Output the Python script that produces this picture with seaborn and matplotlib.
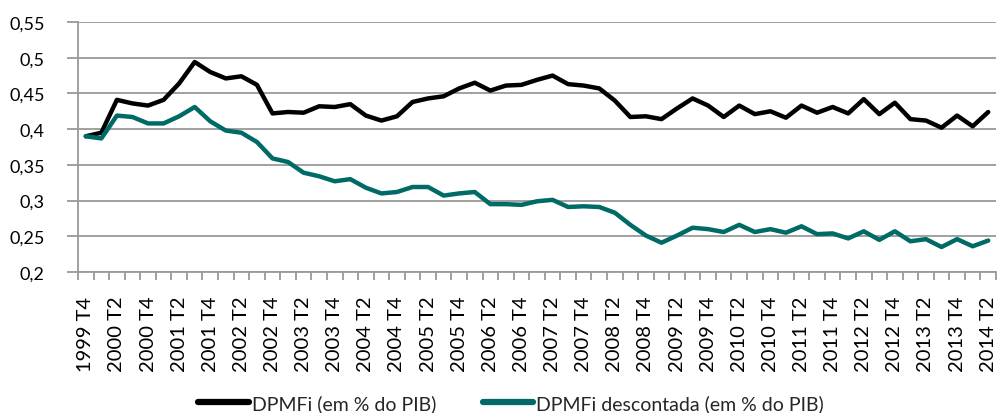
import matplotlib
matplotlib.use("Agg")
import matplotlib.pyplot as plt
from matplotlib.ticker import MultipleLocator, FixedLocator, FuncFormatter
import seaborn as sns
import pandas as pd
import numpy as np

# Quarters 1999 T4 .. 2014 T2
quarters = ["1999 T4"] + [f"{y} T{q}" for y in range(2000, 2014) for q in (1, 2, 3, 4)] + ["2014 T1", "2014 T2"]

dpmfi = [0.390, 0.395, 0.441, 0.436, 0.433, 0.441, 0.464, 0.494, 0.480, 0.471,
         0.474, 0.462, 0.422, 0.424, 0.423, 0.432, 0.431, 0.435, 0.419, 0.412,
         0.418, 0.438, 0.443, 0.446, 0.457, 0.465, 0.454, 0.461, 0.462, 0.469,
         0.475, 0.463, 0.461, 0.457, 0.440, 0.417, 0.418, 0.414, 0.429, 0.443,
         0.433, 0.417, 0.433, 0.421, 0.425, 0.416, 0.433, 0.423, 0.431, 0.422,
         0.442, 0.421, 0.437, 0.414, 0.412, 0.402, 0.419, 0.404, 0.424]

dpmfi_desc = [0.390, 0.387, 0.419, 0.417, 0.408, 0.408, 0.418, 0.431, 0.411, 0.398,
              0.395, 0.382, 0.359, 0.354, 0.339, 0.334, 0.327, 0.330, 0.318, 0.310,
              0.312, 0.319, 0.319, 0.307, 0.310, 0.312, 0.295, 0.295, 0.294, 0.299,
              0.301, 0.291, 0.292, 0.291, 0.283, 0.266, 0.251, 0.241, 0.251, 0.262,
              0.260, 0.256, 0.266, 0.256, 0.260, 0.255, 0.264, 0.253, 0.254, 0.247,
              0.257, 0.245, 0.257, 0.243, 0.246, 0.235, 0.246, 0.236, 0.244]

series_names = ["DPMFi (em % do PIB)", "DPMFi descontada (em % do PIB)"]
colors = ["#000000", "#006B66"]

n = len(quarters)
df = pd.DataFrame({
    "idx": list(range(n)) * 2,
    "valor": dpmfi + dpmfi_desc,
    "serie": [series_names[0]] * n + [series_names[1]] * n,
})

sns.set_theme(style="white")
plt.rcParams["font.family"] = ["Lato", "DejaVu Sans"]

fig = plt.figure(figsize=(9.97, 4.14), dpi=100)
ax = fig.add_axes([78 / 997, 1 - 273 / 414, (996 - 78) / 997, (273 - 23) / 414])

sns.lineplot(data=df, x="idx", y="valor", hue="serie", palette=colors,
             linewidth=3.2, legend=False, ax=ax, sort=False)

gray = "#999999"
ax.set_xlim(-0.5, n - 0.5)
ax.set_ylim(0.2, 0.55)
ax.yaxis.set_major_locator(MultipleLocator(0.05))
ax.yaxis.set_major_formatter(FuncFormatter(lambda v, p: f"{v:.2f}".rstrip("0").rstrip(".").replace(".", ",")))
ax.grid(axis="y", color=gray, linewidth=1.3)
ax.grid(axis="x", visible=False)
ax.set_axisbelow(True)

ax.xaxis.set_major_locator(FixedLocator(list(range(0, n, 2))))
ax.set_xticklabels(quarters[::2], rotation=90, fontsize=14.5)
ax.xaxis.set_minor_locator(FixedLocator(list(np.arange(-0.5, n, 1.0))))
ax.tick_params(axis="x", which="major", length=0, pad=17, colors="black")
ax.tick_params(axis="x", which="minor", length=6, width=1.3, color=gray, bottom=True)
ax.tick_params(axis="y", which="major", length=8, width=1.3, color=gray, pad=16,
               labelsize=13, left=True, labelcolor="black")

for s in ["top", "right"]:
    ax.spines[s].set_visible(False)
for s in ["left", "bottom"]:
    ax.spines[s].set_color(gray)
    ax.spines[s].set_linewidth(1.3)

ax.set_xlabel("")
ax.set_ylabel("")

handles = ax.get_lines()[:2]
leg = fig.legend(handles, series_names, loc="center", bbox_to_anchor=(511 / 997, 10 / 414),
                 ncol=2, frameon=False, fontsize=14, handlelength=2.6, handletextpad=0.15,
                 columnspacing=2.4, borderaxespad=0, borderpad=0)
for h in leg.get_lines():
    h.set_linewidth(4.5)

fig.savefig("out.png", dpi=100)
